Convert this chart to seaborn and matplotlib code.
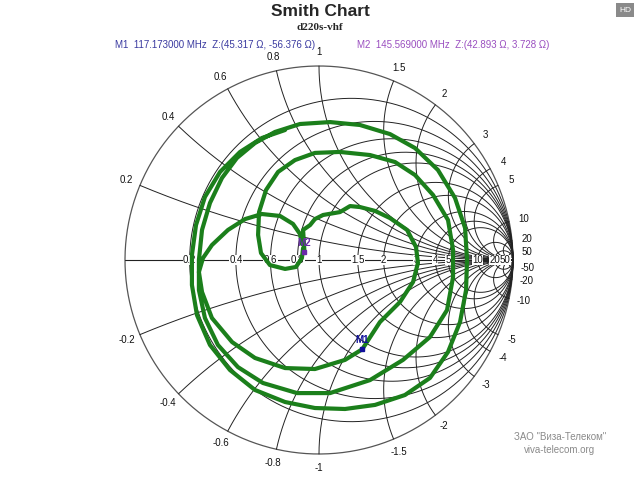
import numpy as np
import pandas as pd
import matplotlib
matplotlib.use("Agg")
import matplotlib.pyplot as plt
import seaborn as sns

gamma_re = [-0.175,-0.294,-0.407,-0.510,-0.588,-0.634,-0.655,-0.655,-0.629,-0.562,-0.459,-0.330,-0.175,-0.021,0.134,0.289,0.443,0.572,0.665,0.727,0.758,0.763,0.753,0.701,0.613,0.495,0.366,0.211,0.057,-0.098,-0.227,-0.330,-0.423,-0.500,-0.562,-0.603,-0.619,-0.619,-0.588,-0.521,-0.418,-0.289,-0.113,0.057,0.263,0.433,0.572,0.660,0.691,0.691,0.665,0.588,0.495,0.392,0.263,0.108,-0.021,-0.124,-0.211,-0.273,-0.309,-0.314,-0.299,-0.253,-0.175,-0.119,-0.088,-0.082,-0.075,-0.082,-0.046,-0.021,0.021,0.108,0.160,0.211,0.289,0.366,0.454,0.500,0.510,0.485,0.418,0.314,0.223,0.134,-0.021,-0.175,-0.330,-0.448,-0.552,-0.603,-0.619,-0.598,-0.552,-0.469,-0.381,-0.294,-0.201,-0.134,-0.098,-0.088]
gamma_im = [0.670,0.629,0.557,0.454,0.325,0.180,0.026,-0.129,-0.284,-0.438,-0.567,-0.670,-0.732,-0.763,-0.768,-0.747,-0.696,-0.608,-0.474,-0.320,-0.155,0.0,0.165,0.320,0.464,0.577,0.649,0.696,0.711,0.701,0.660,0.603,0.526,0.423,0.294,0.155,0.0,-0.155,-0.299,-0.438,-0.552,-0.634,-0.686,-0.686,-0.619,-0.515,-0.397,-0.258,-0.088,0.052,0.206,0.335,0.438,0.505,0.541,0.557,0.552,0.515,0.454,0.361,0.247,0.129,0.036,-0.026,-0.046,-0.036,0.010,0.062,0.043,0.155,0.180,0.211,0.232,0.247,0.278,0.273,0.253,0.216,0.155,0.067,-0.015,-0.113,-0.216,-0.320,-0.460,-0.515,-0.562,-0.557,-0.505,-0.423,-0.299,-0.165,-0.062,0.010,0.077,0.155,0.211,0.237,0.227,0.186,0.134,0.082]

marker_names = ["M1", "M2"]
marker_freq = [117.173, 145.569]
marker_R = [45.317, 42.893]
marker_X = [-56.376, 3.728]
Z0 = 50.0

r_values = [0.2, 0.4, 0.6, 0.8, 1, 1.5, 2, 3, 4, 5, 10, 20, 50]
x_values = [0.2, 0.4, 0.6, 0.8, 1, 1.5, 2, 3, 4, 5, 10, 20, 50]

sns.set_style("white")
plt.rcParams['font.family'] = ['Liberation Sans', 'DejaVu Sans']

fig = plt.figure(figsize=(6.4, 4.8), dpi=100)
ax = fig.add_axes([0, 0, 1, 1])
cx, cy, R = 319, 260, 194
ax.set_xlim(-cx / R, (640 - cx) / R)
ax.set_ylim((cy - 480) / R, cy / R)
ax.set_axis_off()

def g_of_z(z):
    return (z - 1) / (z + 1)

gc = "#222222"
th = np.linspace(0, 2 * np.pi, 500)
ax.plot(np.cos(th), np.sin(th), color="#555555", lw=0.9, zorder=1)
ax.plot([-1, 1], [0, 0], color=gc, lw=0.8, zorder=1)
for r in r_values:
    c = r / (1 + r); rad = 1 / (1 + r)
    ax.plot(c + rad * np.cos(th), rad * np.sin(th), color=gc, lw=0.7, zorder=1)
rr = np.concatenate([[0], np.logspace(-3, 4, 600)])
for x in x_values:
    for s in (1, -1):
        g = g_of_z(rr + 1j * s * x)
        ax.plot(g.real, g.imag, color=gc, lw=0.7, zorder=1)
        gb = g_of_z(1j * s * x)
        lab = ("%g" % (s * x))
        ang = np.angle(gb)
        ax.text(gb.real + 0.075 * np.cos(ang), gb.imag + 0.07 * np.sin(ang), lab,
                fontsize=7, ha="center", va="center", color="#111111")

for r in r_values:
    g = (r - 1) / (r + 1)
    ax.text(g, 0, "%g" % r, fontsize=7, ha="center", va="center", color="#111111",
            bbox=dict(facecolor="white", edgecolor="none", pad=0.3), zorder=2)

df = pd.DataFrame({"re": gamma_re, "im": gamma_im, "i": range(len(gamma_re))})
sns.lineplot(data=df, x="re", y="im", sort=False, estimator=None, color="#1b7f1b",
             lw=3.0, ax=ax, zorder=3)

mcols = ["#10109a", "#6a2aa8"]
for n, Rm, Xm, col, off in zip(marker_names, marker_R, marker_X, mcols, [(0, 0.045), (0, 0.045)]):
    g = g_of_z(complex(Rm, Xm) / Z0)
    ax.plot([g.real], [g.imag], marker="s", ms=3, color=col, zorder=4)
    ax.text(g.real + off[0], g.imag + off[1], n, fontsize=7, fontweight="bold", color=col,
            ha="center", va="center", zorder=5)

fig.text(0.5, 1 - 11 / 480, "Smith Chart", fontsize=12.5, fontweight="bold", ha="center", va="center")
fig.text(0.5, 1 - 27 / 480, "d220s-vhf", fontsize=8, fontweight="bold", ha="center", va="center",
         family="Liberation Serif")
txt1 = "M1  %.6f MHz  Z:(%.3f \u03a9, %.3f \u03a9)" % (marker_freq[0], marker_R[0], marker_X[0])
txt2 = "M2  %.6f MHz  Z:(%.3f \u03a9, %.3f \u03a9)" % (marker_freq[1], marker_R[1], marker_X[1])
fig.text(115 / 640, 1 - 45 / 480, txt1, fontsize=7, color="#3a3aa0", ha="left", va="center")
fig.text(357 / 640, 1 - 45 / 480, txt2, fontsize=7, color="#9a4fc0", ha="left", va="center")

fig.patches.append(matplotlib.patches.Rectangle((616 / 640, 1 - 17 / 480), 18 / 640, 14 / 480,
                   transform=fig.transFigure, facecolor="#8a8a8a", edgecolor="none"))
fig.text(625 / 640, 1 - 10 / 480, "HD", fontsize=6, color="white", ha="center", va="center")

fig.text(560 / 640, 1 - 437 / 480, "ЗАО \"Виза-Телеком\"", fontsize=7, color="#8a8a8a", ha="center", va="center")
fig.text(560 / 640, 1 - 450 / 480, "viva-telecom.org", fontsize=7, color="#8a8a8a", ha="center", va="center")

fig.savefig("out.png", dpi=100, facecolor="white")
